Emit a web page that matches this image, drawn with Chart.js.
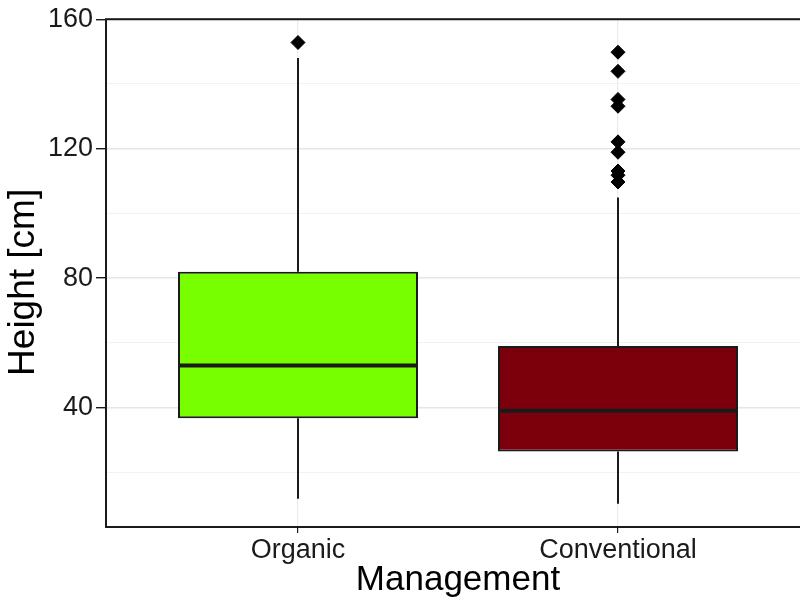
<!DOCTYPE html>
<html>
<head>
<meta charset="utf-8">
<script src="https://cdn.jsdelivr.net/npm/chart.js@4"></script>
<style>
  html, body { margin: 0; padding: 0; background: #fff; overflow: hidden; }
  #wrap { width: 818px; height: 603px; }
</style>
</head>
<body>
<div id="wrap"><canvas id="boxChart" width="818" height="603"></canvas></div>
<script>
// box plot numbers
const categories = ['Organic', 'Conventional'];
const whiskerLow = [11.8, 10.3];
const q1 = [36.7, 26.4];
const median = [53, 39];
const q3 = [82, 59];
const whiskerHigh = [148, 104.9];
const outliers = [
  [152.8],
  [149.8, 143.9, 135.2, 133.1, 122.1, 118.9, 113.1, 111.8, 109.7]
];
const yTicks = [20, 40, 60, 80, 100, 120, 140, 160];
const yLabelEvery = 40;
const boxColors = ['#77ff00', '#7b000c'];

const ink = '#1a1a1a';
const font = '"Liberation Sans", Arial, sans-serif';
const boxWidth = 0.75;

const datasets = [];

// whiskers
categories.forEach((c, i) => {
  [[whiskerLow[i], q1[i]], [q3[i], whiskerHigh[i]]].forEach(seg => {
    datasets.push({
      type: 'line',
      data: seg.map(v => ({ x: i, y: v })),
      borderColor: ink,
      borderWidth: 2,
      pointRadius: 0,
      order: 3
    });
  });
});

// boxes
datasets.push({
  type: 'bar',
  data: categories.map((c, i) => ({ x: i, y: [q1[i], q3[i]] })),
  backgroundColor: boxColors,
  borderColor: ink,
  borderWidth: 2,
  borderSkipped: false,
  barPercentage: boxWidth,
  categoryPercentage: 1,
  order: 2
});

// medians
categories.forEach((c, i) => {
  datasets.push({
    type: 'line',
    data: [{ x: i - boxWidth / 2, y: median[i] }, { x: i + boxWidth / 2, y: median[i] }],
    borderColor: ink,
    borderWidth: 4,
    pointRadius: 0,
    order: 1
  });
});

// outliers
datasets.push({
  type: 'line',
  data: outliers.flatMap((list, i) => list.map(v => ({ x: i, y: v }))),
  showLine: false,
  pointStyle: 'rectRot',
  pointRadius: 7,
  pointBackgroundColor: '#000',
  pointBorderColor: '#000',
  pointBorderWidth: 1,
  order: 0
});

// panel frame (right side falls just outside the window, like the original crop)
const panelBorder = {
  id: 'panelBorder',
  afterDatasetsDraw(chart) {
    const { ctx, chartArea: a } = chart;
    ctx.save();
    ctx.strokeStyle = ink;
    ctx.lineWidth = 2;
    ctx.strokeRect(a.left, a.top, a.right - a.left, a.bottom - a.top);
    ctx.restore();
  }
};

new Chart(document.getElementById('boxChart'), {
  type: 'bar',
  data: { datasets },
  plugins: [panelBorder],
  options: {
    responsive: false,
    animation: false,
    layout: { padding: { top: 19, right: 2, bottom: 0, left: 0 } },
    plugins: { legend: { display: false }, tooltip: { enabled: false } },
    scales: {
      x: {
        type: 'linear',
        min: -0.6,
        max: 1.6,
        offset: false,
        afterBuildTicks: s => { s.ticks = categories.map((c, i) => ({ value: i })); },
        afterFit: s => { s.height = 76; },
        border: { display: false },
        grid: { offset: false, color: '#ebebeb', lineWidth: 1.2, tickColor: ink, tickLength: 6 },
        ticks: {
          callback: v => categories[v],
          font: { family: font, size: 27 },
          color: ink,
          padding: 1,
          maxRotation: 0
        },
        title: {
          display: true,
          text: 'Management',
          font: { family: font, size: 35 },
          color: '#000',
          padding: { top: 0, bottom: 2 }
        }
      },
      y: {
        min: 3.1,
        max: 160,
        afterBuildTicks: s => { s.ticks = yTicks.map(v => ({ value: v })); },
        afterFit: s => { s.width = 106; },
        border: { display: false },
        grid: {
          color: c => c.tick && c.tick.value % yLabelEvery === 0 ? '#e6e6e6' : '#f2f2f2',
          lineWidth: c => c.tick && c.tick.value % yLabelEvery === 0 ? 1.4 : 1,
          tickColor: c => c.tick && c.tick.value % yLabelEvery === 0 ? ink : 'rgba(0,0,0,0)',
          tickLength: 10
        },
        ticks: {
          callback: v => v % yLabelEvery === 0 ? String(v) : '',
          font: { family: font, size: 27 },
          color: ink,
          padding: 3
        },
        title: {
          display: true,
          text: 'Height [cm]\u2002',
          font: { family: font, size: 37 },
          color: '#000',
          padding: { top: 2, bottom: 0 }
        }
      }
    }
  }
});
</script>
</body>
</html>
